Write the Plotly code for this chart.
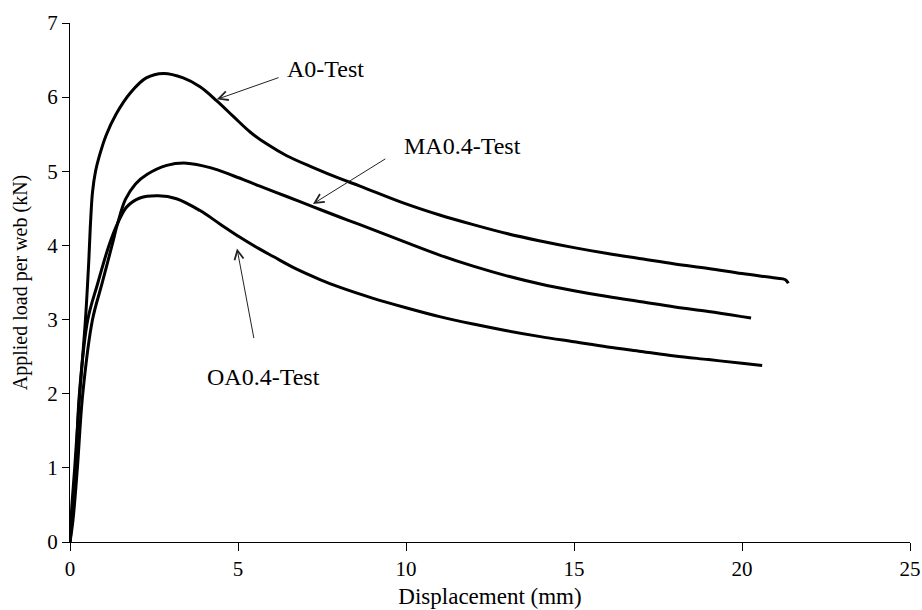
import plotly.graph_objects as go

# Displacement (mm) / Applied load per web (kN)
a0_x = [0, 0.05, 0.14, 0.29, 0.46, 0.56, 0.61, 0.67, 0.76, 0.87, 1.07, 1.37, 1.80, 2.27, 2.78, 3.37, 3.87,
        4.37, 4.86, 5.36, 5.85, 6.45, 7.24, 8.04, 8.63, 10.0, 11.0, 12.0, 13.0, 14.0, 15.0, 16.0, 17.0,
        18.0, 19.0, 20.0, 21.0, 21.28, 21.38]
a0_y = [0, 0.45, 1.0, 2.0, 3.0, 3.80, 4.30, 4.72, 5.00, 5.20, 5.48, 5.77, 6.06, 6.26, 6.32, 6.26, 6.14,
        5.95, 5.74, 5.53, 5.37, 5.21, 5.05, 4.90, 4.80, 4.56, 4.41, 4.28, 4.16, 4.06, 3.97, 3.89, 3.82,
        3.75, 3.69, 3.62, 3.56, 3.54, 3.49]

ma_x = [0, 0.09, 0.22, 0.38, 0.67, 0.95, 1.25, 1.42, 1.65, 1.95, 2.30, 2.88, 3.47, 4.17, 4.86, 5.65, 6.45,
        7.24, 8.04, 8.63, 10.0, 11.0, 12.0, 13.0, 14.0, 15.0, 16.0, 17.0, 18.0, 19.0, 20.0, 20.27]
ma_y = [0, 0.30, 1.0, 2.0, 3.0, 3.48, 4.0, 4.30, 4.62, 4.83, 4.96, 5.08, 5.11, 5.05, 4.94, 4.80, 4.66,
        4.52, 4.38, 4.28, 4.04, 3.87, 3.72, 3.59, 3.48, 3.39, 3.31, 3.24, 3.17, 3.11, 3.04, 3.02]

oa_x = [0, 0.07, 0.17, 0.28, 0.53, 0.82, 1.16, 1.42, 1.69, 2.08, 2.63, 3.17, 3.87, 4.46, 5.06, 5.65, 6.05,
        6.7, 7.44, 8.0, 9.0, 10.0, 11.0, 12.0, 13.0, 14.0, 15.0, 16.0, 17.0, 18.0, 19.0, 20.0, 20.6]
oa_y = [0, 0.35, 1.0, 2.0, 3.0, 3.48, 4.0, 4.30, 4.52, 4.64, 4.67, 4.63, 4.47, 4.29, 4.11, 3.95, 3.85,
        3.69, 3.54, 3.44, 3.29, 3.16, 3.04, 2.94, 2.85, 2.77, 2.70, 2.63, 2.57, 2.51, 2.46, 2.41, 2.38]

labels = ["A0-Test", "MA0.4-Test", "OA0.4-Test"]
label_pos = [(7.59, 6.38), (11.67, 5.34), (5.77, 2.22)]
arrow_tail = [(6.25, 6.27), (9.43, 5.18), (5.48, 2.73)]
arrow_head = [(4.37, 5.97), (7.23, 4.56), (4.97, 3.96)]

x_ticks = [0, 5, 10, 15, 20, 25]
y_ticks = [0, 1, 2, 3, 4, 5, 6, 7]

FONT = "Liberation Serif"

fig = go.Figure()
for xs, ys, name in [(a0_x, a0_y, labels[0]), (ma_x, ma_y, labels[1]), (oa_x, oa_y, labels[2])]:
    fig.add_trace(go.Scatter(x=xs, y=ys, mode="lines", name=name,
                             line=dict(color="black", width=3, shape="spline", smoothing=1.0),
                             showlegend=False))

annotations = []
for (tx, ty), (hx, hy) in zip(arrow_tail, arrow_head):
    annotations.append(dict(x=hx, y=hy, ax=tx, ay=ty, xref="x", yref="y", axref="x", ayref="y",
                            text="", showarrow=True, arrowhead=5, arrowsize=1.8, arrowwidth=1,
                            arrowcolor="#222", standoff=0, startstandoff=0))
for lab, (lx, ly) in zip(labels, label_pos):
    annotations.append(dict(x=lx, y=ly, xref="x", yref="y", text=lab, showarrow=False,
                            font=dict(family=FONT, size=24, color="black")))

fig.update_layout(
    width=922, height=610,
    margin=dict(l=70, r=12, t=23, b=68),
    paper_bgcolor="white", plot_bgcolor="white",
    font=dict(family=FONT, size=21, color="black"),
    annotations=annotations,
    xaxis=dict(range=[0, 25], tickvals=x_ticks, ticks="outside", ticklen=8, tickcolor="black",
               showline=True, linecolor="black", linewidth=1, showgrid=False, zeroline=False,
               automargin=False,
               title=dict(text="Displacement (mm)", font=dict(family=FONT, size=23), standoff=7),
               tickfont=dict(family=FONT, size=21)),
    yaxis=dict(range=[0, 7], tickvals=y_ticks, ticks="outside", ticklen=7, tickcolor="black",
               showline=True, linecolor="black", linewidth=1, showgrid=False, zeroline=False,
               automargin=False,
               title=dict(text="Applied load per web (kN)", font=dict(family=FONT, size=20), standoff=14),
               tickfont=dict(family=FONT, size=21)),
)

fig.write_html("out.html")
